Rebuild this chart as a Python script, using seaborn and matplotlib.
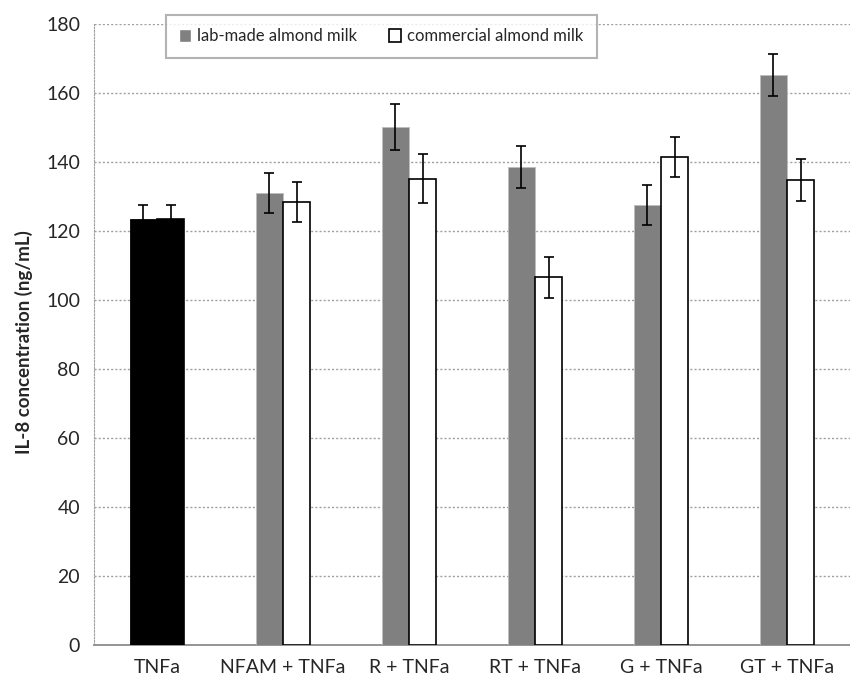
import numpy as np
import pandas as pd
import matplotlib
matplotlib.use("Agg")
import matplotlib.pyplot as plt
import seaborn as sns

# --------------------------
# Data
# --------------------------
treatments = ["TNFa", "NFAM + TNFa", "R + TNFa", "RT + TNFa", "G + TNFa", "GT + TNFa"]
lab_made = [123.6, 131.0, 150.2, 138.6, 127.6, 165.2]
lab_err = [3.8, 5.8, 6.7, 6.0, 5.8, 6.0]
commercial = [123.6, 128.5, 135.2, 106.6, 141.4, 134.8]
comm_err = [3.8, 5.8, 7.0, 6.0, 5.8, 6.0]
series = ["lab-made almond milk", "commercial almond milk"]

df = pd.DataFrame({
    "treatment": treatments * 2,
    "milk": [series[0]] * len(treatments) + [series[1]] * len(treatments),
    "il8": lab_made + commercial,
    "err": lab_err + comm_err,
})

sns.set_style("white")
plt.rcParams["font.family"] = ["Lato", "DejaVu Sans"]

fig = plt.figure(figsize=(8.5, 6.84), dpi=100)
ax = fig.add_axes([94 / 850, 39 / 684, 756 / 850, 621 / 684])

sns.barplot(data=df, x="treatment", y="il8", hue="milk", order=treatments,
            hue_order=series, palette=["#808080", "white"], width=0.43, gap=0,
            errorbar=None, ax=ax, zorder=3)

# style bars + error bars
bar_groups = list(ax.containers)
for k, cont in enumerate(bar_groups):
    errs = lab_err if k == 0 else comm_err
    vals = lab_made if k == 0 else commercial
    xs = []
    for i, bar in enumerate(cont):
        if k == 0:
            bar.set_edgecolor("#bdbdbd")
            bar.set_linewidth(0.6)
        else:
            bar.set_edgecolor("black")
            bar.set_linewidth(1.2)
        if i == 0:
            bar.set_facecolor("black")
            bar.set_edgecolor("black")
        xs.append(bar.get_x() + bar.get_width() / 2)
    ax.errorbar(xs, vals, yerr=errs, fmt="none", ecolor="black",
                elinewidth=1.2, capsize=3.8, capthick=1.2, zorder=4)

ax.set_ylim(0, 180)
ax.set_yticks(range(0, 181, 20))
ax.set_xlim(-0.5, len(treatments) - 0.5)
ax.yaxis.grid(True, linestyle=(0, (1.5, 1.5)), color="#a0a0a0", linewidth=1, zorder=0)
ax.set_axisbelow(True)

for side in ["top", "right"]:
    ax.spines[side].set_visible(False)
ax.spines["left"].set_color("#a0a0a0")
ax.spines["left"].set_linestyle((0, (1.5, 1.5)))
ax.spines["bottom"].set_color("#8c8c8c")
ax.spines["bottom"].set_linewidth(1.3)

ax.tick_params(axis="y", length=5, color="#a0a0a0", labelsize=14, pad=5)
ax.tick_params(axis="x", length=0, labelsize=14, pad=10)
ax.set_xlabel("")
ax.set_ylabel("IL-8 concentration (ng/mL)", fontsize=13.5, fontweight="bold")
ax.yaxis.set_label_coords(-0.081, 0.488)

leg = ax.legend(loc="upper center", bbox_to_anchor=(0.38, 1.0145), ncol=2,
                frameon=True, fancybox=False, fontsize=12, handlelength=0.75,
                handleheight=0.75, handletextpad=0.35, columnspacing=1.9,
                borderpad=0.8, borderaxespad=0)
leg.get_frame().set_edgecolor("#a0a0a0")
leg.get_frame().set_linewidth(1.5)
leg.legend_handles[1].set_edgecolor("black")
leg.legend_handles[1].set_linewidth(1.2)
leg.set_zorder(5)

plt.savefig("out.png", dpi=100)
